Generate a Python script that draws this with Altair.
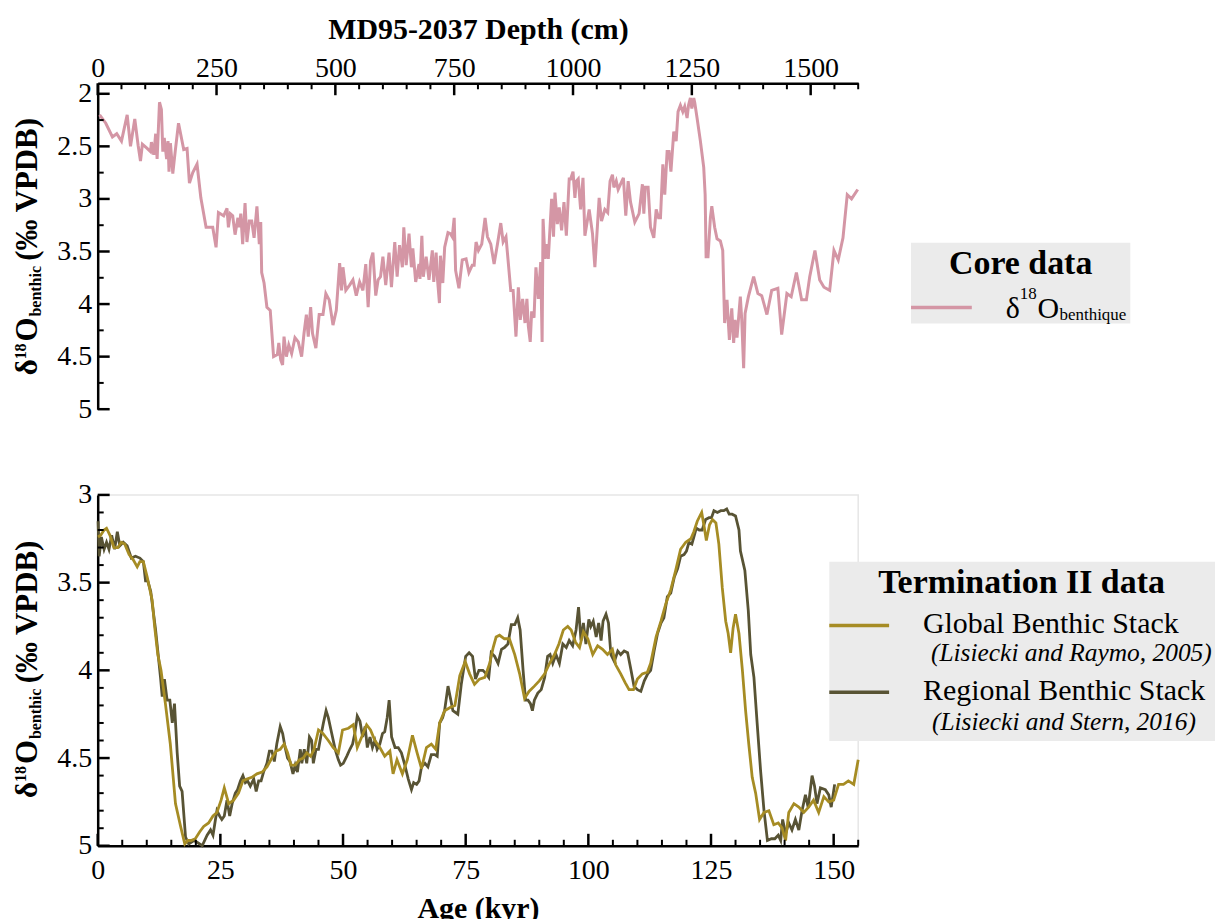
import altair as alt
import pandas as pd

FONT = "Liberation Serif"
PINK = "#d496a5"
GOLD = "#a68c24"
OLIVE = "#585334"
BOX = "#ebebeb"

# ---------------- data ----------------
depth_cm = [4, 17, 31, 40, 50, 62, 69, 78, 85, 90, 94, 104, 111, 113, 118, 122, 125, 130, 134, 137,
            140, 145, 148, 150, 153, 158, 163, 170, 181, 188, 193, 200, 209, 217, 228, 242, 249, 254, 265, 272,
            275, 279, 284, 289, 295, 298, 301, 305, 310, 314, 319, 324, 329, 335, 340, 343, 345, 350, 356, 363,
            370, 378, 381, 385, 389, 392, 397, 402, 408, 415, 422, 429, 434, 439, 443, 448, 452, 459, 466, 474,
            480, 487, 495, 502, 509, 513, 516, 522, 530, 537, 544, 551, 558, 564, 569, 574, 579, 585, 590, 595,
            600, 606, 613, 618, 625, 630, 635, 641, 644, 649, 655, 660, 663, 669, 676, 678, 682, 685, 691, 697,
            704, 707, 712, 715, 719, 721, 726, 730, 737, 742, 746, 750, 753, 760, 767, 775, 781, 788, 792, 796,
            801, 808, 815, 820, 827, 834, 841, 848, 853, 859, 869, 874, 880, 885, 889, 894, 899, 903, 906, 910,
            913, 918, 922, 927, 932, 935, 937, 941, 944, 948, 955, 959, 962, 967, 971, 976, 981, 986, 992, 995,
            1000, 1004, 1007, 1011, 1016, 1021, 1025, 1034, 1041, 1046, 1055, 1060, 1067, 1073, 1078, 1083, 1086, 1091, 1095, 1100,
            1106, 1111, 1116, 1121, 1130, 1139, 1146, 1149, 1152, 1158, 1163, 1170, 1175, 1180, 1184, 1189, 1193, 1198, 1202, 1206,
            1212, 1217, 1221, 1226, 1231, 1235, 1240, 1243, 1247, 1250, 1254, 1256, 1261, 1268, 1275, 1278, 1280, 1284, 1289, 1292,
            1298, 1303, 1310, 1315, 1319, 1324, 1329, 1334, 1338, 1341, 1345, 1352, 1355, 1359, 1362, 1369, 1380, 1389, 1397, 1408,
            1418, 1431, 1439, 1450, 1459, 1470, 1481, 1491, 1498, 1509, 1519, 1528, 1540, 1549, 1558, 1568, 1577, 1586, 1599]
core_d18o = [2.20, 2.28, 2.41, 2.38, 2.45, 2.20, 2.50, 2.24, 2.49, 2.64, 2.48, 2.52, 2.55, 2.46, 2.58, 2.38, 2.62, 2.08, 2.15, 2.55,
             2.42, 2.62, 2.45, 2.74, 2.47, 2.76, 2.55, 2.28, 2.53, 2.52, 2.85, 2.75, 2.67, 2.99, 3.27, 3.27, 3.46, 3.13, 3.16, 3.09,
             3.27, 3.14, 3.16, 3.34, 3.18, 3.27, 3.14, 3.43, 3.04, 3.41, 3.21, 3.21, 3.37, 3.07, 3.43, 3.22, 3.70, 3.80, 4.03, 4.06,
             4.50, 4.48, 4.37, 4.53, 4.58, 4.31, 4.50, 4.39, 4.47, 4.32, 4.36, 4.50, 4.28, 4.10, 4.31, 4.03, 4.28, 4.42, 4.10, 4.10,
             3.90, 3.96, 4.20, 4.06, 3.61, 3.87, 3.65, 3.87, 3.82, 3.77, 3.92, 3.79, 3.87, 3.62, 4.03, 3.59, 3.51, 3.92, 3.77, 3.74,
             3.55, 3.82, 3.51, 3.84, 3.41, 3.74, 3.44, 3.65, 3.27, 3.63, 3.33, 3.65, 3.47, 3.79, 3.62, 3.76, 3.35, 3.74, 3.55, 3.77,
             3.49, 3.79, 3.51, 3.77, 3.99, 3.54, 3.80, 3.46, 3.32, 3.33, 3.36, 3.18, 3.68, 3.85, 3.58, 3.57, 3.70, 3.63, 3.63, 3.41,
             3.49, 3.43, 3.18, 3.36, 3.43, 3.62, 3.43, 3.23, 3.41, 3.36, 3.87, 3.87, 4.31, 3.84, 4.15, 3.95, 4.18, 3.95, 4.21, 4.36,
             4.07, 4.13, 3.65, 3.95, 3.60, 4.36, 3.19, 3.57, 3.43, 3.57, 3.00, 3.36, 2.94, 3.24, 3.08, 3.30, 3.03, 3.35, 2.81, 2.81,
             2.74, 2.99, 2.83, 2.81, 3.10, 2.80, 3.35, 3.10, 3.33, 3.65, 2.99, 3.21, 3.10, 3.13, 2.83, 2.77, 2.89, 2.83, 2.91, 2.86,
             2.80, 3.16, 2.83, 3.03, 3.22, 3.14, 2.86, 3.14, 2.89, 2.89, 3.27, 3.37, 3.10, 3.18, 3.18, 2.67, 2.96, 2.55, 2.55, 2.74,
             2.36, 2.45, 2.17, 2.11, 2.17, 2.12, 2.23, 2.11, 2.04, 2.14, 2.04, 2.08, 2.23, 2.45, 2.70, 2.96, 3.55, 3.55, 3.18, 3.07,
             3.27, 3.38, 3.40, 3.49, 4.18, 3.96, 4.34, 4.04, 4.37, 4.15, 4.32, 3.93, 4.15, 4.61, 4.09, 3.93, 3.74, 3.90, 3.92, 4.10,
             3.87, 3.85, 4.29, 3.90, 3.93, 3.70, 3.96, 3.96, 3.74, 3.49, 3.77, 3.84, 3.87, 3.49, 3.58, 3.37, 2.96, 3.00, 2.91]

age_global = [0.07, 0.6, 1.3, 1.8, 2.5, 3.3, 4.1, 4.8, 5.5, 6.4, 7.25, 8.05, 8.6, 9.3, 10.1, 11.1, 11.6, 12.25, 12.9, 13.8,
              14.8, 15.85, 16.9, 17.75, 18.35, 19.0, 19.9, 20.8, 21.6, 22.6, 23.5, 24.3, 25.15, 25.8, 26.7, 27.7, 28.7, 29.6, 30.4, 31.4,
              32.45, 33.5, 34.5, 35.5, 36.4, 37.2, 38.0, 38.7, 39.4, 40.25, 41.1, 41.9, 42.6, 43.4, 44.1, 45.0, 45.9, 47.0, 48.0, 49.05,
              49.9, 51.1, 52.1, 52.9, 53.8, 54.8, 55.6, 56.5, 57.5, 58.5, 59.55, 60.2, 61.0, 62.1, 63.1, 64.15, 65.1, 66.0, 67.0, 68.0,
              68.9, 69.7, 70.7, 71.9, 72.8, 73.8, 74.9, 75.8, 76.8, 77.8, 78.9, 79.9, 80.6, 81.2, 81.9, 82.9, 83.9, 85.0, 86.0, 87.0,
              87.9, 89.0, 90.0, 91.1, 92.1, 93.1, 94.0, 94.9, 95.8, 96.5, 97.4, 98.2, 99.0, 99.9, 100.9, 101.9, 102.9, 103.9, 104.9, 105.6,
              106.6, 107.5, 108.3, 109.2, 110.0, 111.0, 112.05, 112.7, 113.8, 114.8, 115.8, 116.8, 117.8, 118.8, 119.85, 120.9, 121.5, 122.2, 123.1, 123.6,
              124.05, 124.7, 125.3, 126.0, 126.6, 127.3, 128.0, 128.5, 129.0, 129.5, 130.0, 130.7, 131.4, 132.05, 132.7, 133.4, 134.1, 134.9, 135.8, 136.8,
              137.8, 138.7, 139.5, 140.2, 140.85, 141.9, 142.9, 143.9, 144.9, 145.9, 146.95, 148.0, 149.0, 150.0, 151.0, 152.0, 153.0, 154.1, 155.0]
d18o_global = [3.24, 3.23, 3.20, 3.19, 3.23, 3.30, 3.30, 3.27, 3.28, 3.34, 3.37, 3.41, 3.38, 3.38, 3.47, 3.60, 3.75, 3.91, 4.00, 4.19,
               4.42, 4.76, 4.89, 4.99, 4.97, 4.97, 4.96, 4.92, 4.89, 4.87, 4.83, 4.81, 4.74, 4.67, 4.76, 4.74, 4.70, 4.63, 4.62, 4.61,
               4.59, 4.58, 4.55, 4.50, 4.46, 4.45, 4.42, 4.47, 4.54, 4.54, 4.51, 4.50, 4.47, 4.49, 4.45, 4.34, 4.36, 4.40, 4.44, 4.47,
               4.34, 4.33, 4.31, 4.44, 4.38, 4.31, 4.34, 4.40, 4.44, 4.49, 4.46, 4.59, 4.51, 4.59, 4.51, 4.37, 4.47, 4.56, 4.44, 4.42,
               4.45, 4.30, 4.23, 4.21, 4.20, 4.03, 3.95, 4.02, 4.08, 4.05, 4.04, 3.96, 3.87, 3.81, 3.80, 3.82, 3.82, 3.91, 4.02, 4.16,
               4.12, 4.09, 4.06, 4.02, 3.96, 3.91, 3.85, 3.77, 3.75, 3.77, 3.84, 3.87, 3.78, 3.82, 3.91, 3.86, 3.88, 3.91, 3.88, 3.97,
               4.02, 4.07, 4.11, 4.11, 4.05, 4.02, 4.01, 3.96, 3.81, 3.72, 3.62, 3.54, 3.43, 3.31, 3.27, 3.25, 3.21, 3.15, 3.10, 3.18,
               3.26, 3.17, 3.14, 3.16, 3.28, 3.53, 3.72, 3.79, 3.90, 3.76, 3.68, 3.79, 4.00, 4.23, 4.42, 4.61, 4.70, 4.85, 4.81, 4.80,
               4.88, 4.87, 4.90, 4.97, 4.81, 4.76, 4.78, 4.81, 4.78, 4.74, 4.81, 4.72, 4.75, 4.74, 4.65, 4.65, 4.63, 4.65, 4.51]

age_regional = [0.07, 0.3, 0.75, 1.3, 1.8, 2.3, 2.85, 3.45, 4.0, 4.5, 5.2, 6.0, 6.85, 7.7, 8.6, 9.3, 9.75, 10.2, 10.8, 11.3,
                11.8, 12.25, 12.8, 13.15, 13.6, 14.15, 14.7, 15.2, 15.65, 16.2, 16.7, 17.2, 17.9, 18.55, 19.6, 20.25, 21.3, 22.3, 23.0, 23.5,
                24.0, 24.3, 24.85, 25.3, 25.8, 26.35, 26.9, 27.4, 28.05, 28.5, 29.1, 29.6, 30.1, 30.55, 31.1, 31.8, 32.3, 32.8, 33.3, 33.8,
                34.5, 35.0, 35.5, 36.0, 36.5, 37.2, 37.7, 38.2, 38.7, 39.2, 39.8, 40.25, 40.7, 41.3, 41.6, 42.1, 42.6, 43.15, 43.6, 43.95,
                44.5, 45.0, 45.45, 46.0, 46.55, 47.0, 47.7, 48.4, 49.05, 49.5, 50.05, 50.75, 51.4, 51.95, 52.4, 52.9, 53.45, 54.0, 54.5, 54.95,
                55.5, 56.0, 56.5, 56.95, 57.5, 58.05, 58.5, 59.0, 59.4, 59.9, 60.6, 61.25, 61.9, 62.6, 63.3, 63.95, 64.4, 65.0, 65.5, 66.0,
                66.7, 67.3, 68.0, 68.7, 69.2, 69.7, 70.3, 70.7, 71.4, 72.4, 73.4, 74.1, 75.0, 75.7, 76.4, 77.0, 77.7, 78.5, 79.2, 79.7,
                80.2, 80.9, 81.6, 82.3, 82.9, 83.6, 84.3, 85.0, 85.6, 86.1, 86.7, 87.2, 87.7, 88.2, 88.6, 89.0, 89.7, 90.4, 91.1, 91.7,
                92.2, 92.75, 93.4, 94.1, 94.8, 95.5, 96.1, 96.8, 97.5, 98.0, 98.5, 99.0, 99.5, 100.1, 100.5, 101.0, 101.6, 102.1, 102.6, 103.0,
                103.6, 104.1, 104.6, 105.3, 106.0, 106.6, 107.3, 108.0, 108.7, 109.3, 110.0, 110.7, 111.4, 112.1, 112.7, 113.4, 114.1, 114.8, 115.4, 116.1,
                116.8, 117.5, 118.2, 118.8, 119.5, 120.0, 120.5, 121.1, 121.5, 122.0, 122.6, 123.2, 123.9, 124.6, 125.1, 125.6, 126.3, 127.0, 127.6, 128.2,
                128.7, 129.3, 130.0, 130.7, 131.0, 131.9, 132.6, 133.1, 133.75, 134.4, 135.1, 135.8, 136.5, 137.3, 138.0, 138.7, 139.2, 139.6, 140.2, 140.85,
                141.5, 142.2, 142.9, 143.55, 144.25, 144.8, 145.6, 146.1, 146.6, 147.3, 148.3, 149.0, 149.5, 150.2]
d18o_regional = [3.15, 3.35, 3.24, 3.31, 3.27, 3.31, 3.23, 3.31, 3.21, 3.29, 3.27, 3.29, 3.36, 3.35, 3.36, 3.38, 3.49, 3.49, 3.55, 3.66,
                 3.77, 3.89, 4.04, 4.15, 4.05, 4.17, 4.17, 4.30, 4.19, 4.47, 4.66, 4.69, 4.95, 4.99, 4.97, 4.98, 5.00, 4.94, 4.91, 4.94,
                 4.85, 4.80, 4.83, 4.85, 4.83, 4.74, 4.83, 4.76, 4.70, 4.68, 4.63, 4.60, 4.64, 4.63, 4.66, 4.62, 4.69, 4.63, 4.63, 4.58,
                 4.53, 4.46, 4.46, 4.52, 4.42, 4.32, 4.36, 4.44, 4.50, 4.52, 4.59, 4.54, 4.58, 4.45, 4.53, 4.45, 4.53, 4.38, 4.40, 4.53,
                 4.45, 4.45, 4.38, 4.30, 4.23, 4.27, 4.36, 4.45, 4.51, 4.54, 4.53, 4.49, 4.45, 4.42, 4.36, 4.26, 4.29, 4.38, 4.32, 4.44,
                 4.38, 4.44, 4.40, 4.45, 4.42, 4.36, 4.35, 4.27, 4.17, 4.38, 4.44, 4.44, 4.47, 4.54, 4.62, 4.68, 4.64, 4.65, 4.63, 4.55,
                 4.53, 4.55, 4.48, 4.48, 4.49, 4.30, 4.27, 4.23, 4.09, 4.23, 4.25, 4.08, 3.92, 3.90, 3.92, 4.05, 4.00, 4.00, 4.02, 4.04,
                 3.90, 3.92, 3.96, 3.88, 3.87, 3.85, 3.74, 3.74, 3.70, 3.77, 4.00, 4.17, 4.17, 4.19, 4.23, 4.17, 4.13, 4.11, 4.04, 3.92,
                 3.91, 3.96, 3.91, 3.96, 3.85, 3.87, 3.83, 3.86, 3.77, 3.64, 3.83, 3.73, 3.85, 3.71, 3.75, 3.72, 3.81, 3.73, 3.83, 3.72,
                 3.68, 3.73, 3.91, 3.95, 3.89, 3.91, 3.89, 3.90, 4.00, 4.09, 4.11, 4.12, 4.06, 4.02, 4.00, 3.89, 3.79, 3.73, 3.70, 3.58,
                 3.56, 3.47, 3.42, 3.35, 3.34, 3.32, 3.27, 3.28, 3.24, 3.19, 3.20, 3.20, 3.14, 3.13, 3.13, 3.09, 3.10, 3.09, 3.09, 3.08,
                 3.11, 3.11, 3.12, 3.20, 3.32, 3.43, 3.66, 3.91, 4.04, 4.30, 4.57, 4.80, 4.97, 4.96, 4.96, 4.94, 4.97, 4.85, 4.93, 4.87,
                 4.91, 4.85, 4.91, 4.80, 4.71, 4.78, 4.60, 4.66, 4.76, 4.67, 4.68, 4.71, 4.78, 4.65]

# tick values
top_x_major = [0, 250, 500, 750, 1000, 1250, 1500]
top_x_minor = [v for v in range(50, 1601, 50) if v % 250 != 0]
top_y_major = [2, 2.5, 3, 3.5, 4, 4.5, 5]
top_y_minor = [2.25, 2.75, 3.25, 3.75, 4.25, 4.75]
bot_x_major = [0, 25, 50, 75, 100, 125, 150]
bot_x_minor = [v for v in range(5, 156, 5) if v % 25 != 0]
bot_y_major = [3, 3.5, 4, 4.5, 5]
bot_y_minor = [3.1, 3.2, 3.3, 3.4, 3.6, 3.7, 3.8, 3.9, 4.1, 4.2, 4.3, 4.4, 4.6, 4.7, 4.8, 4.9]

# ---------------- chart ----------------
W, HT, HB = 763, 327, 352
MAJ, MIN = 12, 6

core = pd.DataFrame({"depth": depth_cm, "d18o": core_d18o})
glob = pd.DataFrame({"age": age_global, "d18o": d18o_global})
reg = pd.DataFrame({"age": age_regional, "d18o": d18o_regional})
ONE = pd.DataFrame({"k": [0]})

xs_top = alt.Scale(domain=[0, 1600], nice=False, zero=False)
ys_top = alt.Scale(domain=[1.9, 5], reverse=True, nice=False, zero=False)
xs_bot = alt.Scale(domain=[0, 155], nice=False, zero=False)
ys_bot = alt.Scale(domain=[3, 5], reverse=True, nice=False, zero=False)

ax_top_x = alt.Axis(orient="top", title="MD95-2037 Depth (cm)", values=top_x_major, format="d",
                    labelFlush=False, labelPadding=1, titlePadding=10)
ax_top_y = alt.Axis(title=None, values=top_y_major, format="~g", labelPadding=6)
ax_bot_x = alt.Axis(orient="bottom", title="Age (kyr)", values=bot_x_major, format="d",
                    labelFlush=False, labelPadding=11, titlePadding=9)
ax_bot_y = alt.Axis(title=None, values=bot_y_major, format="~g", labelPadding=6)


def txt(s, x, y, size, weight="normal", style="normal", angle=0, align="left"):
    return alt.Chart(ONE).mark_text(
        text=s, font=FONT, fontSize=size, fontWeight=weight, fontStyle=style,
        angle=angle, align=align, baseline="alphabetic", color="black"
    ).encode(x=alt.value(x), y=alt.value(y))


def ytitle(c):
    return [
        txt("δ", -61, c + 129, 31, "bold", angle=270),
        txt("18", -72, c + 113, 16, "bold", angle=270),
        txt("O", -61, c + 95, 31, "bold", angle=270),
        txt("benthic", -57, c + 70, 16, "bold", angle=270),
        txt("(‰ VPDB)", -61, c + 14, 31, "bold", angle=270),
    ]


def xticks(vals, field, scale, axis, y0, y1, w):
    return alt.Chart(pd.DataFrame({field: vals})).mark_rule(color="black", strokeWidth=w).encode(
        x=alt.X(f"{field}:Q", scale=scale, axis=axis), y=alt.value(y0), y2=alt.value(y1))


def yticks(vals, scale, axis, length, w):
    return alt.Chart(pd.DataFrame({"d18o": vals})).mark_rule(color="black", strokeWidth=w).encode(
        y=alt.Y("d18o:Q", scale=scale, axis=axis), x=alt.value(0), x2=alt.value(length))


def box(x0, x1, y0, y1):
    return alt.Chart(ONE).mark_rect(color=BOX).encode(
        x=alt.value(x0), x2=alt.value(x1), y=alt.value(y0), y2=alt.value(y1))


def swatch(x0, x1, y, color):
    return alt.Chart(ONE).mark_rule(color=color, strokeWidth=3.5).encode(
        x=alt.value(x0), x2=alt.value(x1), y=alt.value(y))


top_line = alt.Chart(core).mark_line(color=PINK, strokeWidth=3).encode(
    x=alt.X("depth:Q", scale=xs_top, axis=ax_top_x),
    y=alt.Y("d18o:Q", scale=ys_top, axis=ax_top_y),
)

top = alt.layer(
    top_line,
    xticks(top_x_major, "depth", xs_top, ax_top_x, 0, MAJ, 2.5),
    xticks(top_x_minor, "depth", xs_top, ax_top_x, 0, MIN, 2),
    yticks(top_y_major, ys_top, ax_top_y, MAJ, 2.5),
    yticks(top_y_minor, ys_top, ax_top_y, MIN, 2),
    *ytitle(164),
    box(816, 1036, 160, 241),
    txt("Core data", 926, 191, 34, "bold", align="center"),
    swatch(816, 877, 225, PINK),
    txt("δ", 911, 235, 30),
    txt("18", 925, 216, 17),
    txt("O", 943, 235, 30),
    txt("benthique", 965, 238, 17),
).properties(width=W, height=HT, view=alt.ViewBackground(stroke="transparent"))

reg_line = alt.Chart(reg).mark_line(color=OLIVE, strokeWidth=2.8).encode(
    x=alt.X("age:Q", scale=xs_bot, axis=ax_bot_x),
    y=alt.Y("d18o:Q", scale=ys_bot, axis=ax_bot_y),
)
glob_line = alt.Chart(glob).mark_line(color=GOLD, strokeWidth=2.8).encode(
    x=alt.X("age:Q", scale=xs_bot, axis=ax_bot_x),
    y=alt.Y("d18o:Q", scale=ys_bot, axis=ax_bot_y),
)

bottom = alt.layer(
    reg_line,
    glob_line,
    xticks(bot_x_major, "age", xs_bot, ax_bot_x, HB, HB - MAJ, 2.5),
    xticks(bot_x_minor, "age", xs_bot, ax_bot_x, HB, HB - MIN, 2),
    yticks(bot_y_major, ys_bot, ax_bot_y, MAJ, 2.5),
    yticks(bot_y_minor, ys_bot, ax_bot_y, MIN, 2),
    *ytitle(175),
    box(734, 1121, 67, 247),
    txt("Termination II data", 783, 98, 34, "bold"),
    swatch(734, 794, 131, GOLD),
    txt("Global Benthic Stack", 828, 139, 30),
    txt("(Lisiecki and Raymo, 2005)", 836, 167, 25.5, style="italic"),
    swatch(734, 794, 198, OLIVE),
    txt("Regional Benthic Stack", 828, 206, 30),
    txt("(Lisiecki and Stern, 2016)", 837, 236, 25.5, style="italic"),
).properties(width=W, height=HB, view=alt.ViewBackground(stroke="#e6e6e6", strokeWidth=1.5))

chart = alt.vconcat(top, bottom, spacing=56).properties(
    padding={"left": 3, "top": 4, "right": 5, "bottom": 5}
).configure_axis(
    domainColor="black", domainWidth=2.5, ticks=False, grid=False,
    labelFont=FONT, labelFontSize=28, labelColor="black",
    titleFont=FONT, titleFontSize=30, titleFontWeight="bold", titleColor="black",
)

chart.save("out.html", embed_options={"renderer": "svg", "actions": False})
